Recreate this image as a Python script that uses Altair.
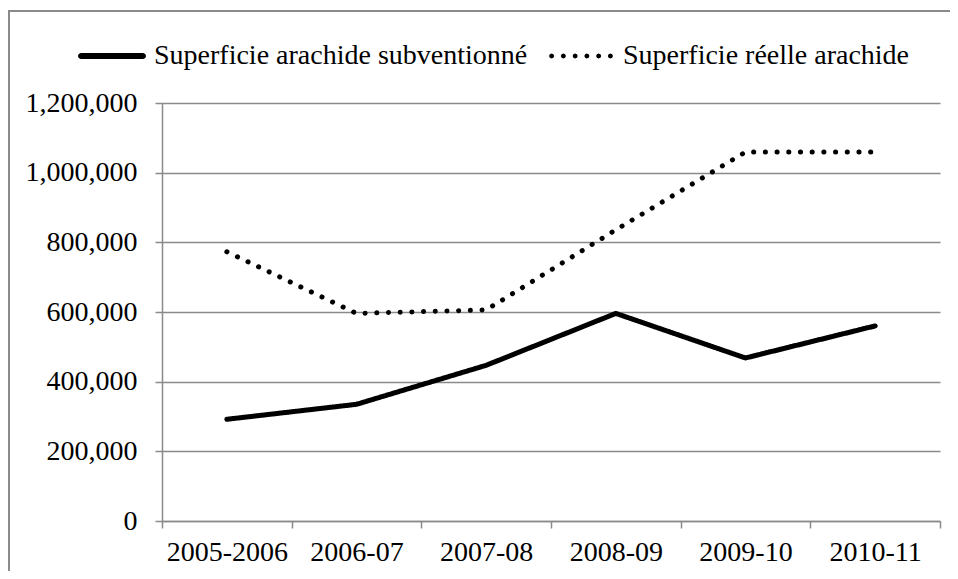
import altair as alt
import pandas as pd

categories = ["2005-2006", "2006-07", "2007-08", "2008-09", "2009-10", "2010-11"]
series_names = ["Superficie arachide subventionné", "Superficie réelle arachide"]
subventionne = [292000, 335000, 447000, 596000, 468000, 560000]
reelle = [773000, 596000, 606000, 836000, 1059000, 1059000]
y_ticks = [0, 200000, 400000, 600000, 800000, 1000000, 1200000]

rows = []
for c, v in zip(categories, subventionne):
    rows.append({"cat": c, "serie": series_names[0], "val": v})
for c, v in zip(categories, reelle):
    rows.append({"cat": c, "serie": series_names[1], "val": v})
df = pd.DataFrame(rows)

FONT = "Liberation Serif"
GRAY = "#8a8a8a"

# legend glyphs (unit-square custom symbol paths)
solid_path = "M-0.92,-0.09 L0.92,-0.09 L0.98,-0.06 L1,0 L0.98,0.06 L0.92,0.09 L-0.92,0.09 L-0.98,0.06 L-1,0 L-0.98,-0.06 Z"
dot_centers = [-0.865, -0.519, -0.173, 0.173, 0.519, 0.865]
r = 0.075
dotted_path = " ".join(
    f"M{c - r:.3f},0 L{c - 0.7 * r:.3f},{-0.7 * r:.3f} L{c:.3f},{-r:.3f} L{c + 0.7 * r:.3f},{-0.7 * r:.3f} "
    f"L{c + r:.3f},0 L{c + 0.7 * r:.3f},{0.7 * r:.3f} L{c:.3f},{r:.3f} L{c - 0.7 * r:.3f},{0.7 * r:.3f} Z"
    for c in dot_centers
)

x_enc = alt.X("cat:N", sort=categories, bandPosition=0.5,
              scale=alt.Scale(type="band", paddingInner=0, paddingOuter=0),
              axis=alt.Axis(title=None, labelAngle=0, tickBand="extent", grid=False,
                            tickSize=7, labelPadding=10))
y_enc = alt.Y("val:Q", scale=alt.Scale(domain=[0, 1200000], nice=False),
              axis=alt.Axis(title=None, values=y_ticks, format=",d", grid=True,
                            tickSize=7, labelPadding=18))

lines = alt.Chart(df).mark_line(color="black", strokeWidth=5, strokeCap="round", strokeJoin="round").encode(
    x=x_enc,
    y=y_enc,
    strokeDash=alt.StrokeDash("serie:N",
                              scale=alt.Scale(range=[[1, 0], [0.1, 11.6]]),
                              legend=None),
)

legend_layer = alt.Chart(df).mark_point(filled=True, color="black", opacity=0).encode(
    x=x_enc,
    y=y_enc,
    shape=alt.Shape("serie:N",
                    scale=alt.Scale(domain=series_names, range=[solid_path, dotted_path]),
                    legend=alt.Legend(title=None, orient="none", legendX=-84, legendY=-81,
                                      direction="horizontal", columns=2,
                                      symbolSize=4624, symbolStrokeWidth=0,
                                      symbolFillColor="black", symbolOpacity=1,
                                      labelOffset=8, columnPadding=19)),
)

border = alt.Chart(pd.DataFrame({"a": [0]})).mark_rect(fill=None, stroke=GRAY, strokeWidth=2).encode(
    x=alt.value(-153), x2=alt.value(1000), y=alt.value(-92), y2=alt.value(700)
)

chart = alt.layer(border, lines, legend_layer).properties(
    width=778, height=418,
    autosize=alt.AutoSizeParams(type="none"),
    padding={"left": 154, "top": 95, "right": 10, "bottom": 50},
).configure_view(stroke=None).configure_axis(
    labelFont=FONT, labelFontSize=28, labelColor="black",
    domainColor=GRAY, domainWidth=1.5, tickColor=GRAY, tickWidth=1.5,
    gridColor=GRAY, gridWidth=1.5,
).configure_legend(
    labelFont=FONT, labelFontSize=28, labelColor="black", labelLimit=0,
)

chart.save("out.html", embed_options={"renderer": "svg", "actions": False})
